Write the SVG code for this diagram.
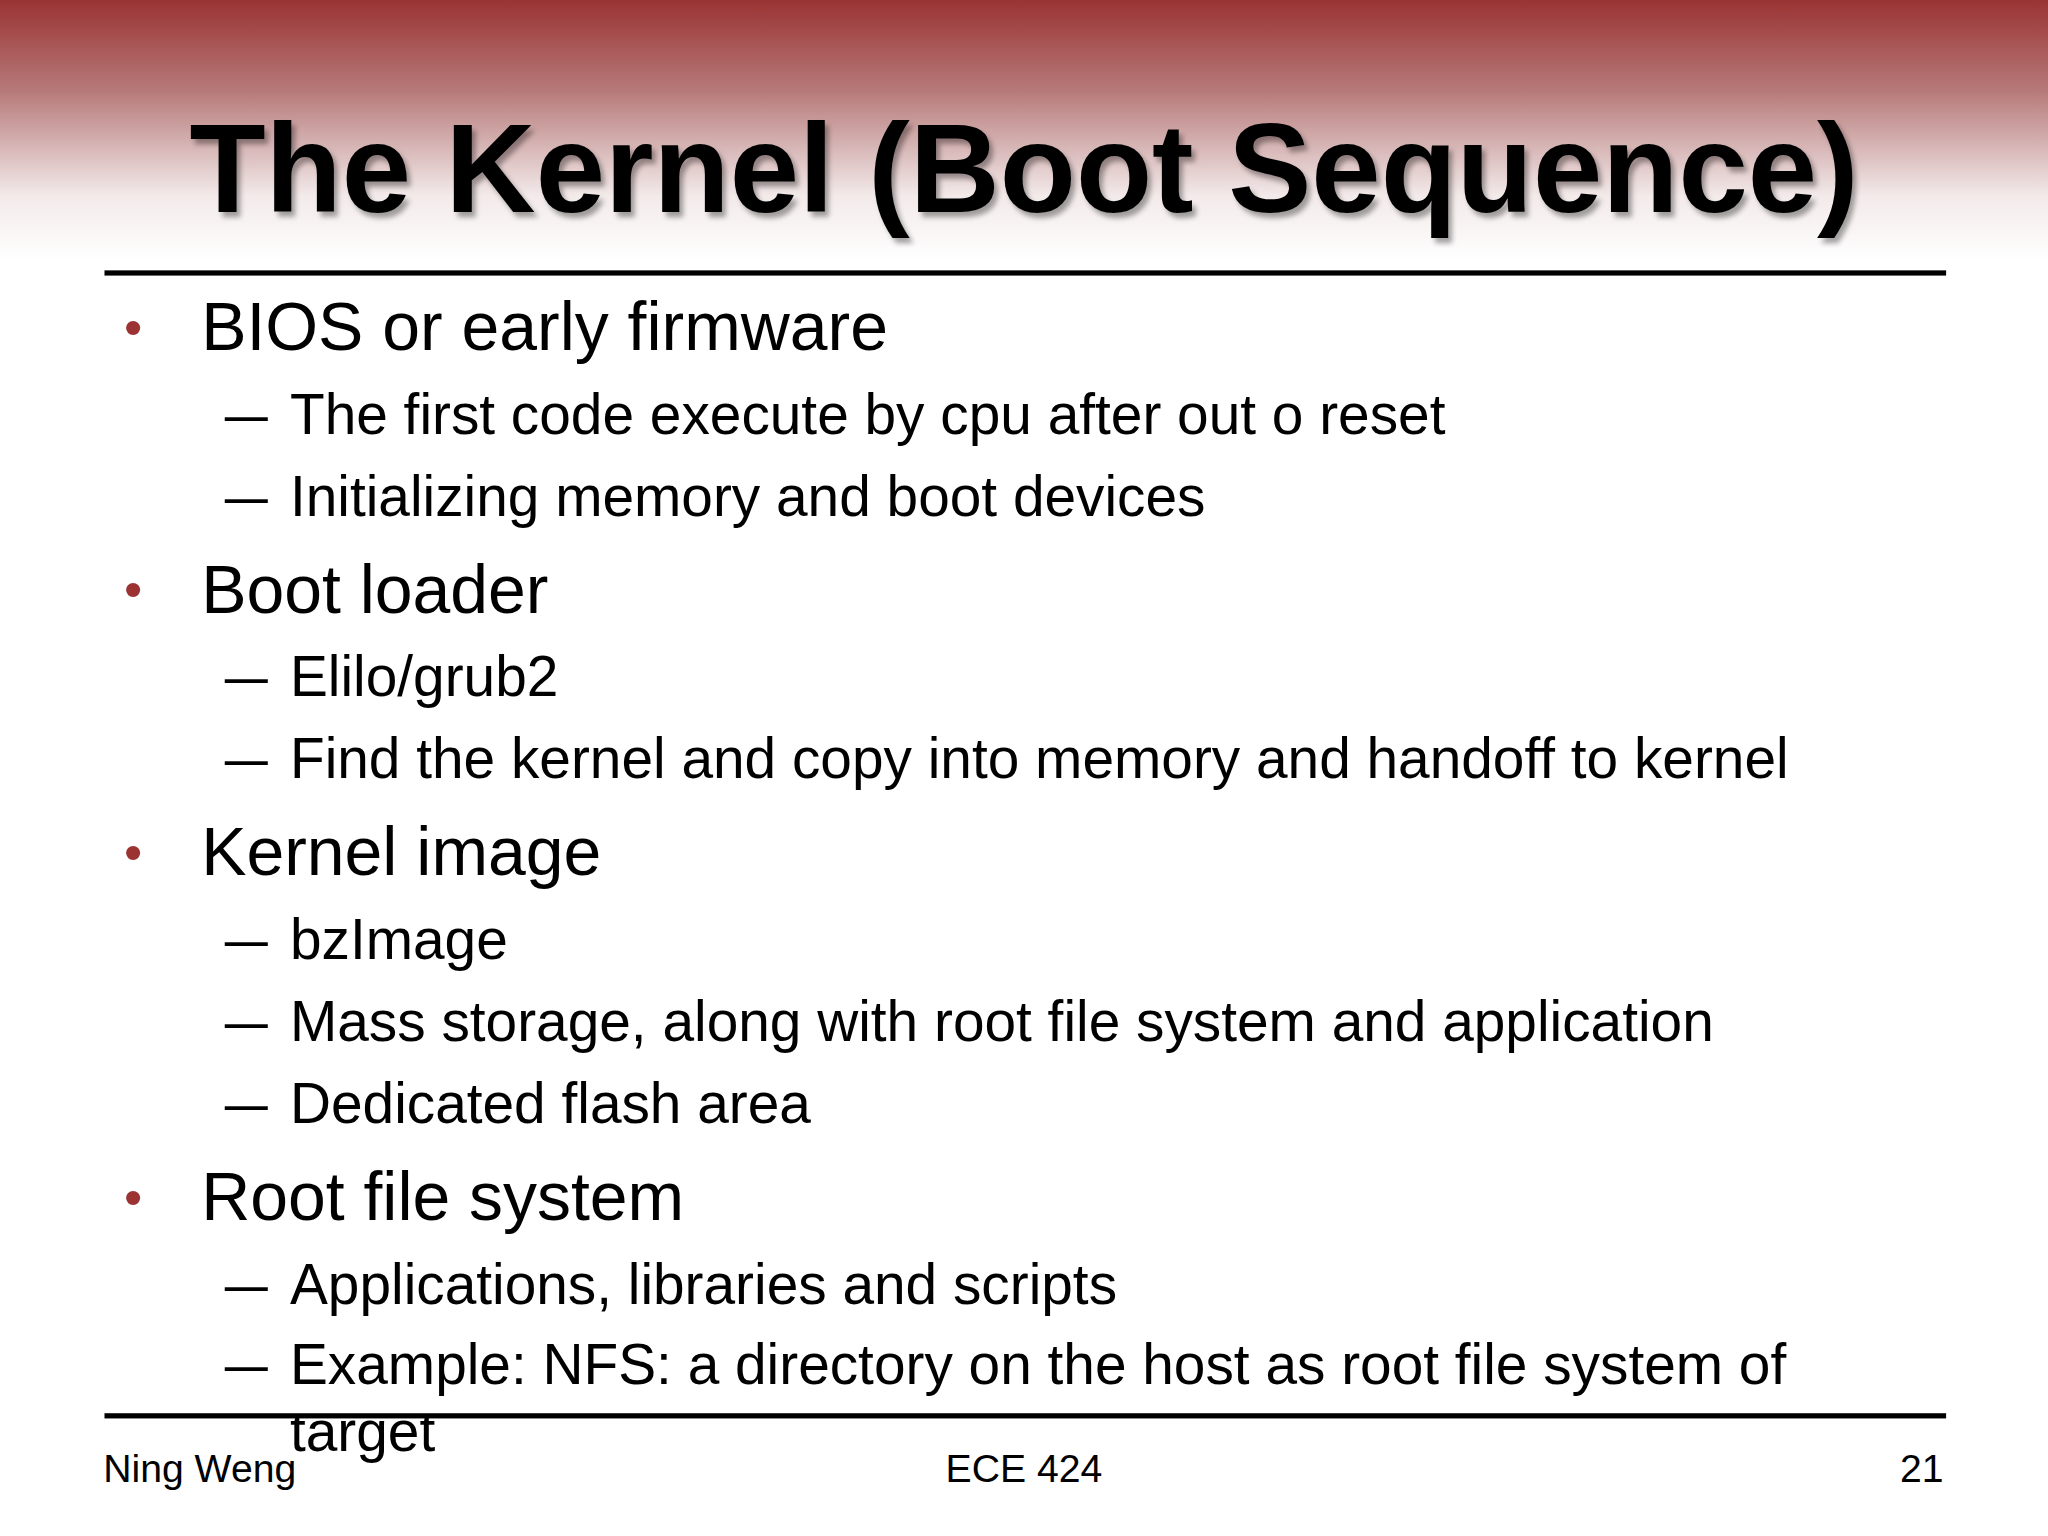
<svg xmlns="http://www.w3.org/2000/svg" width="2048" height="1536" viewBox="0 0 2048 1536">
<defs>
<linearGradient id="bg" x1="0" y1="0" x2="0" y2="1">
<stop offset="0" stop-color="#9a3333"/>
<stop offset="0.35" stop-color="#b77a7a"/>
<stop offset="0.75" stop-color="#f3eaea"/>
<stop offset="1" stop-color="#ffffff"/>
</linearGradient>
<filter id="sh"><feDropShadow dx="3" dy="4" stdDeviation="2" flood-color="#000" flood-opacity="0.35"/></filter>
</defs>
<style>
text{font-family:"Liberation Sans",Arial,sans-serif;fill:#000}
.l1{font-size:52px}
.l2{font-size:43.5px}
.d{font-size:43.5px}
.b{fill:#9b3333;font-size:40px}
.f{font-size:30px}
</style>
<rect width="2048" height="1536" fill="#fff"/>
<g transform="scale(1.30612)">
<rect x="0" y="0" width="1568" height="200" fill="url(#bg)"/>
<g id="title"><text x="145" y="162" font-size="96" font-weight="bold" textLength="1278" lengthAdjust="spacingAndGlyphs" filter="url(#sh)">The Kernel (Boot Sequence)</text></g>
<g id="rules">
<rect x="80" y="207" width="1410" height="4" fill="#000"/>
<rect x="80" y="1082" width="1410" height="4" fill="#000"/>
</g>
<g id="body">
<text class="b" x="95" y="264">•</text><text class="l1" x="154" y="268">BIOS or early firmware</text>
<text class="d" x="172" y="332" textLength="33" lengthAdjust="spacingAndGlyphs">–</text><text class="l2" x="222" y="332">The first code execute by cpu after out o reset</text>
<text class="d" x="172" y="395" textLength="33" lengthAdjust="spacingAndGlyphs">–</text><text class="l2" x="222" y="395">Initializing memory and boot devices</text>
<text class="b" x="95" y="465">•</text><text class="l1" x="154" y="469">Boot loader</text>
<text class="d" x="172" y="533" textLength="33" lengthAdjust="spacingAndGlyphs">–</text><text class="l2" x="222" y="533">Elilo/grub2</text>
<text class="d" x="172" y="596" textLength="33" lengthAdjust="spacingAndGlyphs">–</text><text class="l2" x="222" y="596">Find the kernel and copy into memory and handoff to kernel</text>
<text class="b" x="95" y="666">•</text><text class="l1" x="154" y="670">Kernel image</text>
<text class="d" x="172" y="734" textLength="33" lengthAdjust="spacingAndGlyphs">–</text><text class="l2" x="222" y="734">bzImage</text>
<text class="d" x="172" y="797" textLength="33" lengthAdjust="spacingAndGlyphs">–</text><text class="l2" x="222" y="797">Mass storage, along with root file system and application</text>
<text class="d" x="172" y="860" textLength="33" lengthAdjust="spacingAndGlyphs">–</text><text class="l2" x="222" y="860">Dedicated flash area</text>
<text class="b" x="95" y="930">•</text><text class="l1" x="154" y="934">Root file system</text>
<text class="d" x="172" y="998" textLength="33" lengthAdjust="spacingAndGlyphs">–</text><text class="l2" x="222" y="998">Applications, libraries and scripts</text>
<text class="d" x="172" y="1060" textLength="33" lengthAdjust="spacingAndGlyphs">–</text><text class="l2" x="222" y="1060">Example: NFS: a directory on the host as root file system of</text>
<text class="l2" x="222" y="1111">target</text>
</g>
<g id="footer">
<text class="f" x="79" y="1135">Ning Weng</text>
<text class="f" x="784" y="1135" text-anchor="middle">ECE 424</text>
<text class="f" x="1488" y="1135" text-anchor="end">21</text>
</g>
</g>
</svg>
